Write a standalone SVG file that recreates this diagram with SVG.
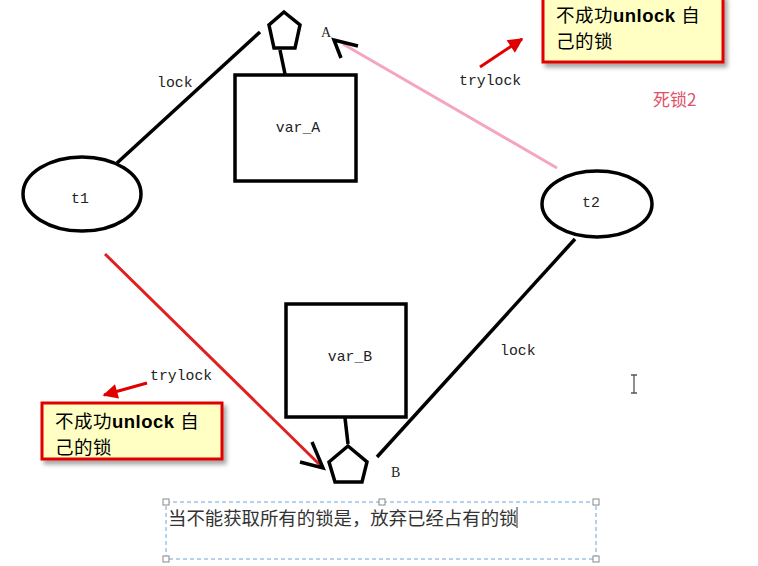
<svg xmlns="http://www.w3.org/2000/svg" width="758" height="566" viewBox="0 0 758 566">
<defs>
<style>
.shape{fill:none;stroke:#000;stroke-width:3.5;stroke-linejoin:miter}
.ln{stroke:#000;stroke-width:3.5;stroke-linecap:butt;fill:none}
.mono{font-family:"Liberation Mono","DejaVu Sans Mono",monospace;font-size:14.8px;fill:#222}
.serif{font-family:"Liberation Serif","DejaVu Serif",serif;font-size:14px;fill:#222}
.call{fill:#FFFFC4;stroke:#E00000;stroke-width:3}
.ctext{font-family:"Liberation Sans","Noto Sans CJK SC",sans-serif;font-size:18.5px;fill:#000;letter-spacing:0.5px}
.cn{font-family:"Noto Sans CJK SC","Liberation Sans",sans-serif}
.handle{fill:#fff;stroke:#888;stroke-width:1}
</style>
<marker id="redhead" viewBox="0 0 10 10" refX="9" refY="5" markerWidth="6" markerHeight="5" orient="auto" markerUnits="strokeWidth">
<path d="M0,0 L10,5 L0,10 Z" fill="#E00000"/>
</marker>
<filter id="shadow" x="-10%" y="-10%" width="130%" height="140%">
<feDropShadow dx="3" dy="4" stdDeviation="2" flood-color="#000" flood-opacity="0.35"/>
</filter>
</defs>
<rect width="758" height="566" fill="#fff"/>

<g id="connectors">
<line class="ln" x1="117" y1="163" x2="260" y2="32"/>
<line x1="343" y1="44" x2="557" y2="168" stroke="#F4A6C0" stroke-width="3"/>
<polyline class="ln" points="358,46 334,40 341,58" stroke-width="3"/>
<line class="ln" x1="575" y1="239" x2="377" y2="457"/>
<line x1="105" y1="254" x2="321" y2="466" stroke="#E02020" stroke-width="3"/>
<polyline class="ln" points="312,442 323,468 300,462" stroke-width="3"/>
<line class="ln" x1="280" y1="50" x2="285" y2="74"/>
<line class="ln" x1="345" y1="418" x2="348" y2="444"/>
</g>

<g id="lockA">
<polygon class="shape" points="284,12 300,25 295,48 274,48 269,25"/>
<text class="serif" x="321" y="37">A</text>
</g>
<g id="var_A">
<rect class="shape" x="235" y="75" width="121" height="106"/>
<text class="mono" x="298" y="132" text-anchor="middle">var_A</text>
</g>
<g id="t1">
<ellipse class="shape" cx="82" cy="194" rx="59" ry="37"/>
<text class="mono" x="80" y="203" text-anchor="middle">t1</text>
</g>
<g id="t2">
<ellipse class="shape" cx="597" cy="204" rx="55" ry="33"/>
<text class="mono" x="591" y="207" text-anchor="middle">t2</text>
</g>
<g id="var_B">
<rect class="shape" x="286" y="304" width="120" height="113"/>
<text class="mono" x="350" y="361" text-anchor="middle">var_B</text>
</g>
<g id="lockB">
<polygon class="shape" points="348,446 367,462 362,482 335,482 329,462"/>
<text class="serif" x="391" y="477">B</text>
</g>

<g id="labels">
<text class="mono" x="157" y="87">lock</text>
<text class="mono" x="459" y="85">trylock</text>
<text class="mono" x="500" y="355">lock</text>
<text class="mono" x="150" y="380">trylock</text>
<text x="653" y="106" font-family="Noto Sans CJK SC,sans-serif" font-size="17" fill="#E0506A">死锁2</text>
</g>

<g id="callout-top">
<rect class="call" x="543" y="-4" width="180" height="66" filter="url(#shadow)"/>
<text class="ctext" x="556" y="22"><tspan class="cn">不成功</tspan><tspan font-weight="bold">unlock</tspan> <tspan class="cn">自</tspan></text>
<text class="ctext cn" x="556" y="48">己的锁</text>
<line x1="480" y1="67" x2="522" y2="39" stroke="#E00000" stroke-width="3" marker-end="url(#redhead)"/>
</g>

<g id="callout-bottom">
<rect class="call" x="42" y="403" width="180" height="56" filter="url(#shadow)"/>
<text class="ctext" x="55" y="428"><tspan class="cn">不成功</tspan><tspan font-weight="bold">unlock</tspan> <tspan class="cn">自</tspan></text>
<text class="ctext cn" x="55" y="454">己的锁</text>
<line x1="147" y1="383" x2="104" y2="395" stroke="#E00000" stroke-width="3" marker-end="url(#redhead)"/>
</g>

<g id="textbox">
<rect x="166" y="502" width="430" height="57" fill="none" stroke="#6AA6E0" stroke-width="1" stroke-dasharray="4,3"/>
<rect class="handle" x="163" y="499" width="6" height="6"/>
<rect class="handle" x="379" y="499" width="6" height="6"/>
<rect class="handle" x="593" y="499" width="6" height="6"/>
<rect class="handle" x="163" y="556" width="6" height="6"/>
<rect class="handle" x="593" y="556" width="6" height="6"/>
<text x="168" y="525" font-family="Noto Sans CJK SC,sans-serif" font-size="18.4" fill="#333">当不能获取所有的锁是，放弃已经占有的锁</text>
<line x1="517" y1="507" x2="517" y2="528" stroke="#333" stroke-width="1"/>
</g>

<g id="cursor">
<path d="M631,375 H637 M634,375 V393 M631,393 H637" stroke="#555" stroke-width="1.3" fill="none"/>
</g>
</svg>
